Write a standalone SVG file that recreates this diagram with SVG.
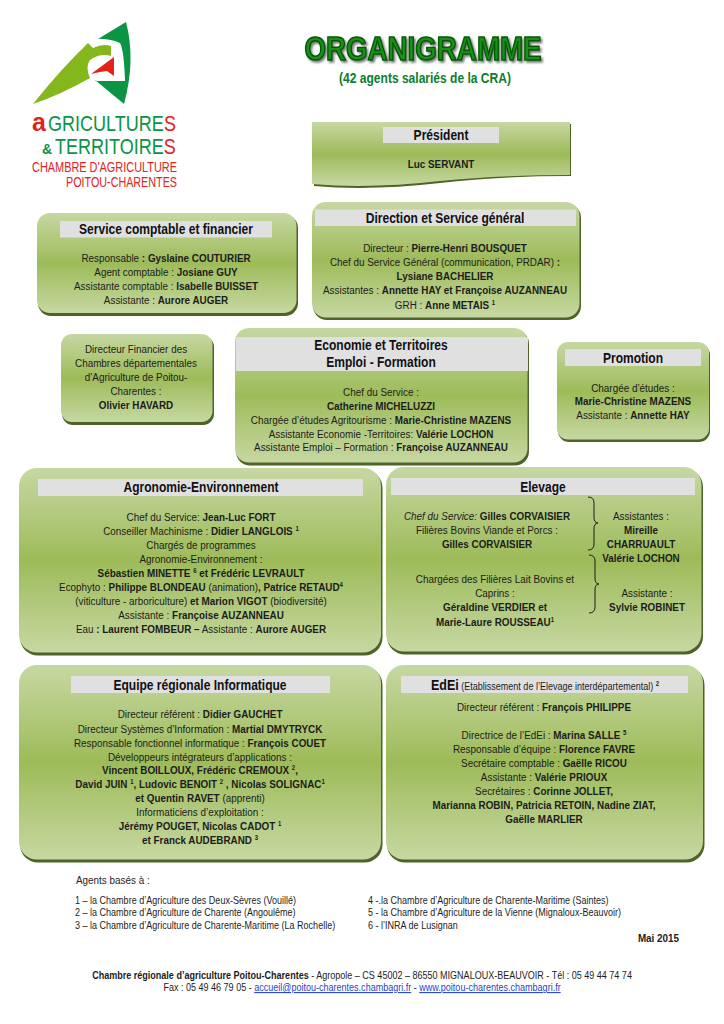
<svg xmlns="http://www.w3.org/2000/svg" width="724" height="1024" viewBox="0 0 724 1024">
<style>
text{font-family:"Liberation Sans",Arial,sans-serif;fill:#1c1c1c;font-size:11.5px}
.c,.h{text-anchor:middle;transform-box:fill-box;transform-origin:center;transform:scaleX(.86)}
.n{transform-box:fill-box;transform-origin:left center;transform:scaleX(.86)}
.k{transform-box:fill-box;transform-origin:left center;transform:scaleX(.82)}
.b{font-weight:bold}
.h{font-size:14px;font-weight:bold;fill:#111}
.bar{fill:#e0e0e0}
.box{fill:url(#g)}
.sh{fill:#4f6228}
.s{font-size:7px;font-weight:bold;baseline-shift:4px}
.f{font-size:10.5px}
.l{fill:#1f3fd0;text-decoration:underline}
.r{fill:#e2231a}.v{fill:#0a9444}
</style>
<defs>
<linearGradient id="g" x1="0" y1="0" x2="0" y2="1"><stop offset="0" stop-color="#c6d8a2"/><stop offset="0.5" stop-color="#9dbb59"/><stop offset="1" stop-color="#c6d8a2"/></linearGradient>
</defs>

<g id="logo">
<path fill="#0a9444" d="M126,22Q136,60 124,104L95,80L93,42Z"/>
<path fill="#fff" d="M93,39Q108,38 120,43Q124,50 125,81L97,81Q85,75 88,67Q88,55 90,45Z"/>
<path fill="#84b71c" d="M33,104Q60,70 88,43L93,48Q103,43 111,46L111,56Q100,53 90,60Q85,67 90,78Q60,95 33,104Z"/>
<path fill="#e2231a" d="M91,74L114,57V76L107,71L100,72Z"/>
<text x="32" y="131" style="font-size:25px;font-weight:bold" class="r">a</text>
<text x="48" y="131" style="font-size:22px" class="k v">GRICULTURE<tspan class="r">S</tspan></text>
<text x="42" y="154" style="font-size:14px;font-weight:bold" class="v">&amp;</text>
<text x="55" y="154" style="font-size:22px" class="k v">TERRITOIRE<tspan class="r">S</tspan></text>
<text x="177" y="172" style="font-size:14px;text-anchor:end" textLength="145" lengthAdjust="spacingAndGlyphs" class="r">CHAMBRE D'AGRICULTURE</text>
<text x="177" y="187" style="font-size:14px;text-anchor:end" textLength="111" lengthAdjust="spacingAndGlyphs" class="r">POITOU-CHARENTES</text>
</g>

<g id="title">
<text x="423" y="60" class="c" style="font-size:33px;font-weight:bold;fill:#1a8f1a;stroke:#045a04;stroke-width:1.6px;transform:scaleX(.84);filter:drop-shadow(2px 2px 1px #777)">ORGANIGRAMME</text>
<text x="425" y="83" class="c b" style="font-size:14px;fill:#0b7d2c">(42 agents salariés de la CRA)</text>
</g>

<g id="president">
<path class="sh" d="M314,124H571V176Q500,176 440,183Q370,191 314,186Z"/>
<path class="box" d="M312,122H570V175Q500,175 440,181Q370,189 312,184Z"/>
<rect class="bar" x="383" y="127" width="116" height="16"/>
<text class="h" x="441" y="140">Président</text>
<text class="c b" x="441" y="168">Luc SERVANT</text>
</g>

<g id="service-comptable">
<rect class="sh" x="38" y="215" width="260" height="101" rx="13"/>
<rect class="box" x="37" y="213" width="259.500" height="100" rx="13"/>
<rect class="bar" x="60" y="221" width="212" height="16.500"/>
<text class="h" x="166" y="234">Service comptable et financier</text>
<text class="c" x="166" y="262">Responsable <tspan class="b">: Gyslaine COUTURIER</tspan></text>
<text class="c" x="166" y="276">Agent comptable : <tspan class="b">Josiane GUY</tspan></text>
<text class="c" x="166" y="290">Assistante comptable : <tspan class="b">Isabelle BUISSET</tspan></text>
<text class="c" x="166" y="304">Assistante : <tspan class="b">Aurore AUGER</tspan></text>
</g>

<g id="direction">
<rect class="sh" x="313" y="204" width="268" height="116" rx="14"/>
<rect class="box" x="312" y="202" width="267.500" height="115.500" rx="14"/>
<rect class="bar" x="315" y="209.500" width="261" height="16.500"/>
<text class="h" x="445" y="223">Direction et Service général</text>
<text class="c" x="445" y="252">Directeur : <tspan class="b">Pierre-Henri BOUSQUET</tspan></text>
<text class="c" x="445" y="266">Chef du Service Général (communication, PRDAR) <tspan class="b">:</tspan></text>
<text class="c b" x="445" y="280">Lysiane BACHELIER</text>
<text class="c" x="445" y="294">Assistantes : <tspan class="b">Annette HAY et Françoise AUZANNEAU</tspan></text>
<text class="c" x="445" y="309">GRH : <tspan class="b">Anne METAIS </tspan><tspan class="s">1</tspan></text>
</g>

<g id="directeur-financier">
<rect class="sh" x="62" y="336" width="152" height="89" rx="11"/>
<rect class="box" x="61" y="334" width="151.500" height="88" rx="11"/>
<text class="c" x="136" y="353">Directeur Financier des</text>
<text class="c" x="136" y="367">Chambres départementales</text>
<text class="c" x="136" y="381">d’Agriculture de Poitou-</text>
<text class="c" x="136" y="395">Charentes :</text>
<text class="c b" x="136" y="409">Olivier HAVARD</text>
</g>

<g id="economie">
<rect class="sh" x="236" y="330" width="293" height="135.500" rx="14"/>
<rect class="box" x="235" y="328" width="292.500" height="134.500" rx="14"/>
<rect class="bar" x="236" y="337" width="292" height="34"/>
<text class="h" x="381" y="350">Economie et Territoires</text>
<text class="h" x="381" y="367">Emploi - Formation</text>
<text class="c" x="381" y="396">Chef du Service :</text>
<text class="c b" x="381" y="410">Catherine MICHELUZZI</text>
<text class="c" x="381" y="424">Chargée d’études Agritourisme : <tspan class="b">Marie-Christine MAZENS</tspan></text>
<text class="c" x="381" y="438">Assistante Economie -Territoires: <tspan class="b">Valérie LOCHON</tspan></text>
<text class="c" x="381" y="451">Assistante Emploi – Formation : <tspan class="b">Françoise AUZANNEAU</tspan></text>
</g>

<g id="promotion">
<rect class="sh" x="558" y="344" width="152" height="98" rx="11"/>
<rect class="box" x="557" y="342" width="152" height="97.500" rx="11"/>
<rect class="bar" x="565" y="349" width="136" height="17"/>
<text class="h" x="633" y="363">Promotion</text>
<text class="c" x="633" y="392">Chargée d’études :</text>
<text class="c b" x="633" y="405">Marie-Christine MAZENS</text>
<text class="c" x="633" y="419">Assistante : <tspan class="b">Annette HAY</tspan></text>
</g>

<g id="agronomie">
<rect class="sh" x="20" y="470" width="362.500" height="185.500" rx="18"/>
<rect class="box" x="19" y="468" width="362" height="184.500" rx="18"/>
<rect class="bar" x="38" y="479" width="325" height="17"/>
<text class="h" x="201" y="492">Agronomie-Environnement</text>
<text class="c" x="201" y="521">Chef du Service: <tspan class="b">Jean-Luc FORT</tspan></text>
<text class="c" x="201" y="535">Conseiller Machinisme : <tspan class="b">Didier LANGLOIS </tspan><tspan class="s">1</tspan></text>
<text class="c" x="201" y="549">Chargés de programmes</text>
<text class="c" x="201" y="563">Agronomie-Environnement :</text>
<text class="c b" x="201" y="577">Sébastien MINETTE <tspan class="s">6</tspan> et Frédéric LEVRAULT</text>
<text class="c" x="201" y="591">Ecophyto : <tspan class="b">Philippe BLONDEAU</tspan> (animation)<tspan class="b">, Patrice RETAUD</tspan><tspan class="s">4</tspan></text>
<text class="c" x="201" y="605">(viticulture - arboriculture) <tspan class="b">et Marion VIGOT</tspan> (biodiversité)</text>
<text class="c" x="201" y="619">Assistante : <tspan class="b">Françoise AUZANNEAU</tspan></text>
<text class="c" x="201" y="633">Eau <tspan class="b">: Laurent FOMBEUR –</tspan> Assistante : <tspan class="b">Aurore AUGER</tspan></text>
</g>

<g id="elevage">
<rect class="sh" x="387" y="469" width="316" height="185.500" rx="18"/>
<rect class="box" x="386" y="467" width="315.500" height="184.500" rx="18"/>
<rect class="bar" x="391" y="478" width="304" height="17"/>
<text class="h" x="543" y="492">Elevage</text>
<text class="c" x="487" y="520"><tspan font-style="italic">Chef du Service:</tspan> <tspan class="b">Gilles CORVAISIER</tspan></text>
<text class="c" x="487" y="534">Filières Bovins Viande et Porcs :</text>
<text class="c b" x="487" y="548">Gilles CORVAISIER</text>
<text class="c" x="495" y="583">Chargées des Filières Lait Bovins et</text>
<text class="c" x="495" y="597">Caprins :</text>
<text class="c b" x="495" y="611">Géraldine VERDIER et</text>
<text class="c b" x="495" y="626">Marie-Laure ROUSSEAU<tspan class="s">1</tspan></text>
<text class="c" x="641" y="520">Assistantes :</text>
<text class="c b" x="641" y="534">Mireille</text>
<text class="c b" x="641" y="548">CHARRUAULT</text>
<text class="c b" x="641" y="562">Valérie LOCHON</text>
<text class="c" x="647" y="597">Assistante :</text>
<text class="c b" x="647" y="611">Sylvie ROBINET</text>
</g>

<g id="equipe-informatique">
<rect class="sh" x="20" y="667" width="362.500" height="195.500" rx="18"/>
<rect class="box" x="19" y="665" width="362" height="194.500" rx="18"/>
<rect class="bar" x="71" y="676" width="259" height="17"/>
<text class="h" x="200" y="690">Equipe régionale Informatique</text>
<text class="c" x="200" y="718">Directeur référent : <tspan class="b">Didier GAUCHET</tspan></text>
<text class="c" x="200" y="733">Directeur Systèmes d’Information : <tspan class="b">Martial DMYTRYCK</tspan></text>
<text class="c" x="200" y="747">Responsable fonctionnel informatique : <tspan class="b">François COUET</tspan></text>
<text class="c" x="200" y="761">Développeurs intégrateurs d’applications :</text>
<text class="c b" x="200" y="774">Vincent BOILLOUX, Frédéric CREMOUX <tspan class="s">2</tspan>,</text>
<text class="c b" x="200" y="788">David JUIN <tspan class="s">1</tspan>, Ludovic BENOIT <tspan class="s">2</tspan> , Nicolas SOLIGNAC<tspan class="s">1</tspan></text>
<text class="c" x="200" y="802"><tspan class="b">et Quentin RAVET</tspan> (apprenti)</text>
<text class="c" x="200" y="816">Informaticiens d’exploitation :</text>
<text class="c b" x="200" y="830">Jérémy POUGET, Nicolas CADOT <tspan class="s">1</tspan></text>
<text class="c b" x="200" y="844">et Franck AUDEBRAND <tspan class="s">3</tspan></text>
</g>

<g id="edei">
<rect class="sh" x="387" y="667" width="317.500" height="195.500" rx="18"/>
<rect class="box" x="386" y="665" width="317" height="194.500" rx="18"/>
<rect class="bar" x="401" y="676" width="287" height="17"/>
<text class="n" x="431" y="690"><tspan class="b" style="font-size:14.5px;fill:#111">EdEi</tspan><tspan style="font-size:10.5px"> (Etablissement de l’Elevage interdépartemental) </tspan><tspan class="s">2</tspan></text>
<text class="c" x="544" y="711">Directeur référent : <tspan class="b">François PHILIPPE</tspan></text>
<text class="c" x="544" y="739">Directrice de l’EdEi : <tspan class="b">Marina SALLE </tspan><tspan class="s">5</tspan></text>
<text class="c" x="544" y="753">Responsable d’équipe : <tspan class="b">Florence FAVRE</tspan></text>
<text class="c" x="544" y="767">Secrétaire comptable : <tspan class="b">Gaëlle RICOU</tspan></text>
<text class="c" x="544" y="781">Assistante : <tspan class="b">Valérie PRIOUX</tspan></text>
<text class="c" x="544" y="795">Secrétaires : <tspan class="b">Corinne JOLLET,</tspan></text>
<text class="c b" x="544" y="809">Marianna ROBIN, Patricia RETOIN, Nadine ZIAT,</text>
<text class="c b" x="544" y="823">Gaëlle MARLIER</text>
</g>

<g id="connectors" fill="none" stroke="#1c1c1c" stroke-width="1">
<path d="M588,497Q594,497 594,503V517Q594,523 598,523Q594,523 594,529V544Q594,550 588,550"/>
<path d="M589,555Q595,555 595,561V578Q595,584 599,584Q595,584 595,590V607Q595,613 589,613"/>
</g>

<g id="footer">
<text class="n" x="76" y="884">Agents basés à :</text>
<text class="n f" x="75" y="904">1 – la Chambre d’Agriculture des Deux-Sèvres (Vouillé)</text>
<text class="n f" x="75" y="916.500">2 – la Chambre d’Agriculture de Charente (Angoulême)</text>
<text class="n f" x="75" y="929">3 – la Chambre d’Agriculture de Charente-Maritime (La Rochelle)</text>
<text class="n f" x="368" y="904">4 -.la  Chambre d’Agriculture de Charente-Maritime (Saintes)</text>
<text class="n f" x="368" y="916.500">5 - la Chambre d’Agriculture de la Vienne (Mignaloux-Beauvoir)</text>
<text class="n f" x="368" y="929">6 - l’INRA de Lusignan</text>
<text class="c b" x="658.500" y="942">Mai 2015</text>
<text class="c f" x="362" y="979"><tspan class="b">Chambre régionale d’agriculture Poitou-Charentes</tspan> - Agropole – CS 45002 – 86550 MIGNALOUX-BEAUVOIR - Tél : 05 49 44 74 74</text>
<text class="c f" x="362" y="991">Fax : 05 49 46 79 05 -  <tspan class="l">accueil@poitou-charentes.chambagri.fr</tspan>  - <tspan class="l">www.poitou-charentes.chambagri.fr</tspan></text>
</g>
</svg>
